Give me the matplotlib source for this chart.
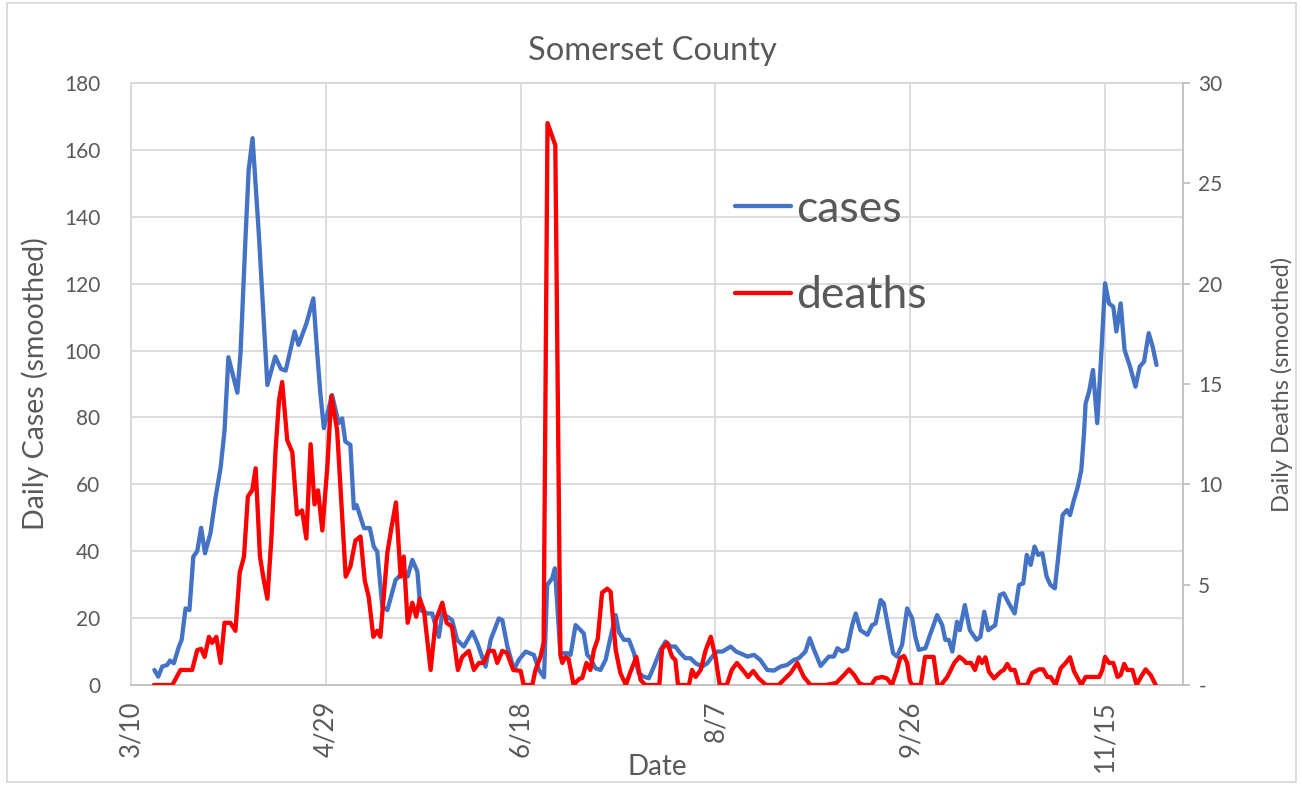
import matplotlib
matplotlib.use('Agg')
import matplotlib.pyplot as plt
from matplotlib.patches import Rectangle

plt.rcParams['font.family'] = ['Lato', 'DejaVu Sans']

# x = days after 3/10
case_days = [6, 7, 8, 9.3, 10, 11, 12.3, 13, 14, 15, 16, 17, 18, 19, 20.4, 21.7, 23, 24, 25,
             27.3, 28.1, 29.4, 30.2, 31.2, 32.8, 35, 37, 38.5, 39.7, 42, 43, 45, 46.8, 47.8, 48.6,
             49.5, 51.6, 53.3, 54.2, 55, 56.3, 57.2, 57.9, 59.8, 61.3, 62.3, 63.2, 64.5, 65.8,
             67.9, 69.6, 71, 72.2, 73.5, 74.3, 76, 77.3, 79, 79.9, 81.2, 82.4, 83.7, 85.4,
             87.6, 88.9, 91, 92.3, 94.4, 95.3, 96.6, 98.3, 99.5, 101.3, 103.4, 104.7, 106,
             106.8, 108.1, 108.8, 110.2, 112, 112.8, 114.1, 115.4, 116.2, 117.1, 117.9, 119.2,
             120.5, 121.8, 123.1, 124.4, 125.2, 126.5, 127.8, 129.1, 130.3, 131.6, 132.9,
             134.2, 135.9, 137.2, 138.5, 139.7, 141, 142.3, 143.6, 144.9, 146.6, 147.9, 149.2,
             150.5, 151.8, 153.9, 155.3, 157.3, 158.2, 159.9, 161.5, 163.3, 165, 166.7, 168.4,
             170.1, 171.4, 173.1, 174.2, 175.3, 177, 179.1, 180.4, 181.3, 182.5, 183.8, 185.1,
             186, 187.2, 189, 190.2, 191.1, 192.4, 193.2, 194.5, 195.6, 196.6, 197.9, 199.2,
             200.5, 201.3, 202.2, 203.9, 205.2, 206.9, 208.2, 209, 209.9, 210.8, 212, 212.7,
             214, 215.3, 217, 218, 219, 220, 221.8, 223, 224, 225.3, 226.8, 227.9, 229, 229.9,
             230.9, 231.9, 232.8, 233.9, 235, 236, 237.1, 237.9, 239.1, 240.2, 241, 242, 243,
             243.9, 244.6, 245, 245.9, 246.9, 248, 248.9, 250, 251, 252.1, 252.9, 254, 255,
             256.4, 257.8, 258.9, 260, 261.2, 262.2, 263.2]
cases = [4.5, 2.5, 5.5, 6, 7.3, 6.5, 11.5, 13.5, 22.9, 22.4, 38.4, 40, 47, 39.4, 45.4, 56, 65, 76, 98,
         87.4, 99, 134, 154, 163.5, 135, 89.7, 98.2, 94.5, 94, 105.7, 101.7, 108, 115.6, 99.2, 87.2,
         76.8, 86.7, 78.3, 79.7, 72.8, 71.8, 52.8, 53.8, 46.9, 46.9, 41.4, 39.9, 23.4, 22.4,
         31.4, 33.4, 32.4, 37.4, 33.9, 22.4, 21.4, 21.4, 14.4, 21.4, 20.4, 19.4, 13.5, 11.5,
         15.9, 12.5, 5.5, 13.5, 19.9, 19.4, 11.5, 4.5, 7.5, 10, 9, 4.5, 2.3,
         29.9, 31.9, 34.9, 9.5, 9.5, 9, 17.9, 16.4, 15.4, 9, 8, 5,
         4.5, 7.5, 14.4, 20.9, 15.9, 13.5, 13.5, 9.5, 3.5, 2.5, 2,
         5.5, 10.5, 13, 11.5, 11.5, 9.5, 8, 8, 6.5, 5.5, 6.5, 8.5,
         10, 10, 11.5, 10, 9, 8.5, 9, 7.5, 4.5, 4.3, 5.5, 6,
         7.5, 8, 10, 14, 10.5, 5.7, 8.5, 8.5, 11, 10, 10.7, 17.9,
         21.4, 16.4, 15, 17.9, 18.4, 25.4, 24.4, 16.4, 9.5, 8.5, 12, 22.9,
         19.9, 14.4, 10.5, 11, 15.4, 20.9, 17.9, 13.5, 13.5, 10, 18.9, 16.4,
         23.9, 16.4, 13.5, 14.4, 21.9, 16.4, 17.9, 26.9, 27.4, 24.4, 21.4, 29.9, 30.4, 38.9,
         35.9, 41.4, 38.9, 39.4, 32.4, 29.9, 28.9, 37.4, 50.8, 52.3, 50.8, 55.3, 59.3,
         64.3, 75.3, 84.2, 87.7, 94.2, 78.3, 96.2, 120.1, 114.1, 113.1, 105.7, 114.1, 100.2,
         95.2, 89.2, 95.2, 96.7, 105.2, 101.2, 95.7]

death_days = [5.9, 10.6, 12.7, 15.7, 17, 18, 18.9, 20, 20.8, 21.9, 23, 24, 25.5, 26.8, 27.9, 29, 30,
              31.1, 32, 33.1, 34.1, 35, 36, 37.1, 38, 38.8, 40.1, 41.4, 42.6, 43.9, 45, 46.1, 47.1,
              48, 49.1, 50.4, 51.4, 52.9, 53.8, 55.1, 56.3, 57.6, 58.9, 60, 61, 62.2, 63.2, 64,
              65.8, 66.9, 68, 69.2, 70, 71, 72.2, 73.2, 74.1, 75.2, 76.9, 78.2, 79.9, 81, 82.4,
              83.9, 85, 86.7, 88, 89.3, 90.5, 91.8, 93.1, 94, 95.3, 96.5, 98.1, 100, 100.8, 103,
              103.8, 105.1, 105.9, 106.9, 108.9, 110.2, 110.7, 111.5, 112.3, 113.6, 115, 115.8,
              116.9, 117.9, 118.8, 119.8, 120.9, 122.2, 123.1, 124.4, 125.6, 127, 128.2, 129.7,
              130.8, 132, 135.6, 136.3, 137.6, 138.9, 139.7, 140.4, 143.2, 144, 144.9, 146.2,
              147.5, 148.8, 150, 151.1, 152.9, 154.2, 155.5, 157, 158.4, 159.7, 161.1, 163, 166.2,
              169.3, 171, 172.7, 174.4, 178.3, 181, 183, 184.3, 185.6, 186.9, 188, 190, 191.1,
              192.8, 194, 195.3, 196.6, 197.4, 198.4, 199.2, 199.9, 200.5, 202.7, 203.8, 206, 207,
              207.9, 209.5, 211.3, 212.6, 213.7, 214.3, 215.6, 216.6, 217.6, 218.4, 219.3, 220.2,
              221.5, 223.2, 224, 224.9, 225.8, 226.8, 227.9, 230, 231.3, 233, 234.1, 235.2, 236,
              237.3, 238.6, 239.9, 241, 242, 243, 243.9, 245, 248.5, 249.3, 250, 251, 252.1, 253.2,
              254, 254.9, 255.7, 257, 258.1, 259.2, 260.4, 261.7, 263]
deaths = [0, 0, 0.75, 0.75, 1.74, 1.8, 1.4, 2.4, 2.1, 2.4, 1.1, 3.1, 3.1, 2.7, 5.6, 6.4, 9.4,
          9.7, 10.8, 6.4, 5.2, 4.3, 7.2, 11.7, 14.2, 15.1, 12.2, 11.6, 8.5, 8.7, 7.3, 12, 9,
          9.7, 7.7, 10.9, 14.4, 12.7, 9.7, 5.4, 5.9, 7.2, 7.4, 5.2, 4.4, 2.4, 2.7, 2.4,
          6.6, 7.9, 9.1, 5.4, 6.4, 3.1, 4.1, 3.4, 4.3, 3.7, 0.75, 3.2, 4.1, 3.1, 2.9,
          0.75, 1.4, 1.7, 0.75, 1.1, 1.1, 1.7, 1.7, 1.1, 1.7, 1.6, 0.75, 0.7, 0, 0,
          0.75, 1.4, 2.1, 28, 26.9, 1.5, 1.1, 1.4, 1.3, 0, 0.3, 0.35,
          1.1, 0.75, 1.74, 2.3, 4.6, 4.8, 4.65, 1.74, 0.6, 0, 0.66, 1.4,
          0.25, 0, 0, 1.8, 2.1, 1.4, 1.25, 0, 0, 0.75, 0.4, 0.75,
          1.74, 2.4, 1.4, 0, 0, 0.75, 1.1, 0.75, 0.4, 0.7, 0.33, 0, 0,
          0.6, 1.1, 0.4, 0, 0, 0.1, 0.5, 0.78, 0.5, 0.1, 0, 0, 0.33,
          0.4, 0.33, 0, 0.75, 1.33, 1.45, 1.1, 0.2, 0, 0, 1.4, 1.4, 0,
          0, 0.4, 1.1, 1.4, 1.25, 1.1, 1.1, 0.75, 1.38, 1.1, 1.38, 0.66,
          0.33, 0.66, 0.75, 1.05, 0.75, 0.75, 0, 0, 0.6, 0.78, 0.78, 0.4, 0.4,
          0, 0.83, 1.1, 1.38, 0.7, 0.33, 0, 0.4, 0.4, 0.75, 1.4, 1.1, 1.1, 0.4,
          0.5, 1.05, 0.75, 0.75, 0, 0.4, 0.78, 0.5, 0]

tick_days = [0, 50, 100, 150, 200, 250]
tick_labels = ['3/10', '4/29', '6/18', '8/7', '9/26', '11/15']

grey = '#595959'
gridc = '#d9d9d9'
W, H = 1302, 785

fig = plt.figure(figsize=(W / 100, H / 100), dpi=100)
ax = fig.add_axes([131 / W, 1 - 685 / H, (1183 - 131) / W, (685 - 83) / H])
ax2 = ax.twinx()

l1, = ax.plot(case_days, cases, color='#4472C4', lw=3.1, solid_joinstyle='round',
              solid_capstyle='round', label='cases')
l2, = ax2.plot(death_days, deaths, color='#FF0000', lw=3.1, solid_joinstyle='round',
               solid_capstyle='round', label='deaths')

ax.set_xlim(0, 270)
ax.set_ylim(0, 180)
ax2.set_ylim(0, 30)
ax.set_yticks(range(0, 181, 20))
ax2.set_yticks(range(0, 31, 5))
ax2.set_yticklabels(['-'] + [str(v) for v in range(5, 31, 5)])
ax.set_xticks(tick_days)
ax.set_xticklabels(tick_labels, rotation=90)

ax.grid(True, color=gridc, lw=1.3)
ax.set_axisbelow(True)
for s in ['top', 'left']:
    ax.spines[s].set_color(gridc)
    ax.spines[s].set_linewidth(1.3)
ax.spines['right'].set_visible(False)
ax.spines['bottom'].set_color('#bfbfbf')
ax.spines['bottom'].set_linewidth(1.3)
for s in ['top', 'left', 'bottom']:
    ax2.spines[s].set_visible(False)
ax2.spines['right'].set_color('#bfbfbf')
ax2.spines['right'].set_linewidth(1.3)

ax.tick_params(axis='y', length=0, pad=22, labelsize=15, labelcolor=grey)
ax.tick_params(axis='x', length=0, pad=11, labelsize=18.5, labelcolor=grey)
ax2.tick_params(axis='y', length=5, width=1.3, color='#bfbfbf', pad=6, labelsize=15, labelcolor=grey)

ax.set_ylabel('Daily Cases (smoothed)', fontsize=20.5, color=grey, labelpad=11)
ax2.set_ylabel('Daily Deaths (smoothed)', fontsize=17, color=grey, labelpad=35)
fig.text(657 / W, 1 - 767 / H, 'Date', ha='center', va='center', fontsize=20, color=grey)
fig.text(652 / W, 1 - 51 / H, 'Somerset County', ha='center', va='center', fontsize=23.5, color=grey)

leg = ax2.legend([l1, l2], ['cases', 'deaths'], loc='upper left', bbox_to_anchor=(735 / W, 1 - 189 / H),
                 bbox_transform=fig.transFigure, frameon=False, fontsize=32, handlelength=1.25,
                 handletextpad=0.12, labelspacing=1.02, borderpad=0, borderaxespad=0)
for t in leg.get_texts():
    t.set_color(grey)

fig.patches.append(Rectangle((7 / W, 3 / H), (1296 - 7) / W, (782 - 3) / H, transform=fig.transFigure,
                             fill=False, edgecolor=gridc, lw=1.3))

fig.savefig('out.png', dpi=100)
